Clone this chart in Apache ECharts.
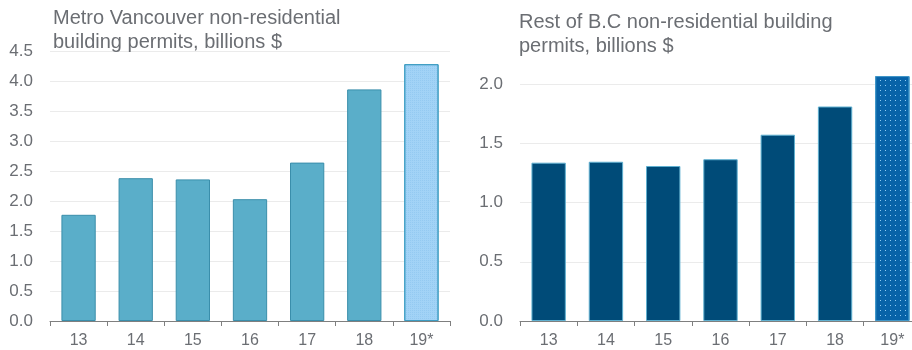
<!DOCTYPE html>
<html>
<head>
<meta charset="utf-8">
<script src="https://cdn.jsdelivr.net/npm/echarts@6/dist/echarts.min.js"></script>
<style>
html,body{margin:0;padding:0;background:#fff;}
#c{width:912px;height:350px;}
</style>
</head>
<body>
<div id="c"></div>
<script>
var categories = ['13', '14', '15', '16', '17', '18', '19*'];
var metroValues = [1.77, 2.38, 2.36, 2.03, 2.64, 3.86, 4.28];
var restValues = [1.336, 1.344, 1.308, 1.365, 1.572, 1.81, 2.067];
var metroTicks = [0, 4.5, 0.5];
var restTicks = [0, 2.0, 0.5];
var titleMetro = 'Metro Vancouver non-residential\nbuilding permits, billions $';
var titleRest = 'Rest of B.C non-residential building\npermits, billions $';

var FONT = '"Liberation Sans", Arial, sans-serif';
var TXT = '#6b6e73';

function mkData(vals, base, forecast) {
  return vals.map(function (v, i) {
    if (i === vals.length - 1) return { value: v, itemStyle: forecast };
    return { value: v, itemStyle: base };
  });
}

var metroData = mkData(metroValues,
  { color: '#5aaec9', borderColor: '#3a8eab', borderWidth: 1 },
  { color: '#a2d3f6', borderColor: '#3d9cc2', borderWidth: 1,
    decal: { symbol: 'rect', symbolSize: 1, dashArrayX: [1, 1], dashArrayY: [1, 1], color: 'rgba(130,190,235,0.45)' } });
var restData = mkData(restValues,
  { color: '#004b78', borderColor: '#5fb0d0', borderWidth: 1 },
  { color: '#0863a8', borderColor: '#3f96c8', borderWidth: 1,
    decal: { symbol: 'rect', symbolSize: 1, dashArrayX: [1, 4], dashArrayY: [1, 4], color: 'rgba(150,210,245,0.95)' } });

function xAx(gi) {
  return {
    type: 'category', gridIndex: gi, data: categories,
    axisLine: { show: true, lineStyle: { color: '#7f7f7f', width: 1 } },
    axisTick: { show: true, length: 5, lineStyle: { color: '#7f7f7f' } },
    axisLabel: { color: TXT, fontSize: 16, fontFamily: FONT, margin: 12 }
  };
}
function yAx(gi, t) {
  return {
    type: 'value', gridIndex: gi, min: t[0], max: t[1], interval: t[2],
    axisLine: { show: false }, axisTick: { show: false },
    splitLine: { show: true, lineStyle: { color: '#ebebeb', width: 1 } },
    axisLabel: { color: TXT, fontSize: 17, fontFamily: FONT, margin: 17,
      formatter: function (v) { return v.toFixed(1); } }
  };
}

var chart = echarts.init(document.getElementById('c'), null, { renderer: 'canvas' });
chart.setOption({
  animation: false,
  title: [
    { text: titleMetro, left: 53, top: 6, padding: 0,
      textStyle: { fontFamily: FONT, fontSize: 20, fontWeight: 'normal', color: TXT, lineHeight: 24 } },
    { text: titleRest, left: 519, top: 10, padding: 0,
      textStyle: { fontFamily: FONT, fontSize: 20, fontWeight: 'normal', color: TXT, lineHeight: 24 } }
  ],
  grid: [
    { left: 50, top: 51, width: 400, height: 270, outerBoundsMode: 'none', containLabel: false },
    { left: 520, top: 84, width: 401, height: 237, outerBoundsMode: 'none', containLabel: false }
  ],
  xAxis: [xAx(0), xAx(1)],
  yAxis: [yAx(0, metroTicks), yAx(1, restTicks)],
  series: [
    { type: 'bar', xAxisIndex: 0, yAxisIndex: 0, data: metroData, barCategoryGap: '40%', clip: false },
    { type: 'bar', xAxisIndex: 1, yAxisIndex: 1, data: restData, barCategoryGap: '40%', clip: false }
  ]
});
</script>
</body>
</html>
